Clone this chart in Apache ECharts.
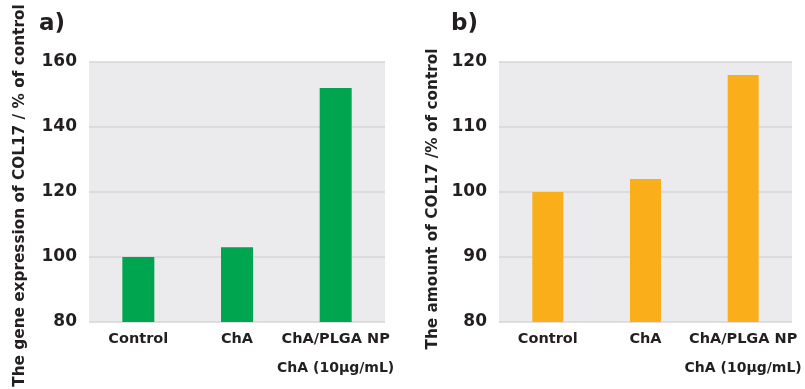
<!DOCTYPE html>
<html>
<head>
<meta charset="utf-8">
<script src="https://cdn.jsdelivr.net/npm/echarts@6/dist/echarts.min.js"></script>
<style>
html,body{margin:0;padding:0;background:#fff;}
#c{width:805px;height:389px;}
</style>
</head>
<body>
<div id="c"></div>
<script>
const categories = ['Control', 'ChA', 'ChA/PLGA NP'];
const subLabel = 'ChA (10μg/mL)';
const geneExpression = [100, 103, 152];
const proteinAmount = [100, 102, 118];
const yTicksA = { min: 80, max: 160, interval: 20 };
const yTicksB = { min: 80, max: 120, interval: 10 };
const nameA = 'The gene expression of COL17 / % of control';
const nameB = 'The amount of COL17 /% of control';

const FONT = 'DejaVu Sans';
const TXT = '#231f20';

function xAxis(gi) {
  return {
    type: 'category', gridIndex: gi, data: categories,
    axisLine: { show: false }, axisTick: { show: false },
    axisLabel: {
      interval: 0, hideOverlap: false,
      margin: 3, color: TXT, fontFamily: FONT, fontWeight: 'bold', fontSize: 14.5, lineHeight: 29,
      formatter: function (v, i) { return i === 2 ? v + '\n{s|' + subLabel + '}' : v; },
      rich: { s: { fontSize: 14, fontWeight: 'bold', fontFamily: FONT, color: TXT, lineHeight: 29 } }
    }
  };
}
function yAxis(gi, t, name, gap, shift) {
  return {
    type: 'value', gridIndex: gi, min: t.min, max: t.max, interval: t.interval,
    name: name, nameLocation: 'middle', nameGap: gap, nameRotate: 90,
    nameTextStyle: { color: TXT, fontFamily: FONT, fontWeight: 'bold', fontSize: 15.3, padding: [0, shift, 0, 0] },
    axisLine: { show: false }, axisTick: { show: false },
    axisLabel: { margin: 12, color: TXT, fontFamily: FONT, fontWeight: 'bold', fontSize: 17 },
    splitLine: { show: true, lineStyle: { color: '#d6d6d8', width: 1.5 } }
  };
}

const chart = echarts.init(document.getElementById('c'), null, { renderer: 'canvas' });
chart.setOption({
  animation: false,
  backgroundColor: '#ffffff',
  grid: [
    { left: 89, top: 62, width: 296, height: 260, show: true, backgroundColor: '#ebebed', borderWidth: 0, outerBoundsMode: 'none', containLabel: false },
    { left: 499, top: 62, width: 293, height: 260, show: true, backgroundColor: '#ebebed', borderWidth: 0, outerBoundsMode: 'none', containLabel: false }
  ],
  xAxis: [xAxis(0), xAxis(1)],
  yAxis: [yAxis(0, yTicksA, nameA, 61, 7), yAxis(1, yTicksB, nameB, 58, 14)],
  series: [
    { type: 'bar', xAxisIndex: 0, yAxisIndex: 0, data: geneExpression, barWidth: 32, itemStyle: { color: '#00a54f' } },
    { type: 'bar', xAxisIndex: 1, yAxisIndex: 1, data: proteinAmount, barWidth: 31, itemStyle: { color: '#faaf1a' } }
  ],
  graphic: [
    { type: 'text', left: 39, top: 13, style: { text: 'a)', fill: TXT, font: 'bold 23px "DejaVu Sans"' } },
    { type: 'text', left: 451, top: 13, style: { text: 'b)', fill: TXT, font: 'bold 23px "DejaVu Sans"' } }
  ]
});
</script>
</body>
</html>
